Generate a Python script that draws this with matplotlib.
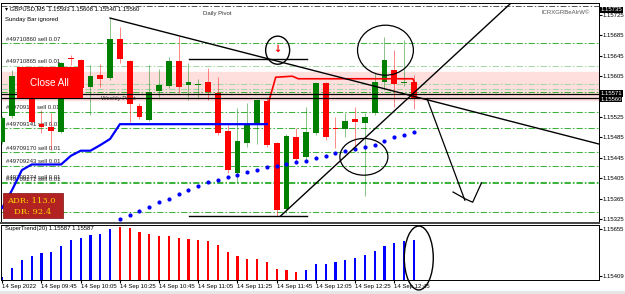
import matplotlib
matplotlib.use("Agg")
import matplotlib.pyplot as plt
from matplotlib.patches import Ellipse, Rectangle
import matplotlib.transforms as mtransforms

plt.rcParams["font.family"] = ["Liberation Sans", "DejaVu Sans"]

# GBPUSD M5 candles, 14 Sep 2022 from 09:25
opens = [1.15476, 1.15527, 1.15600, 1.15594, 1.15511, 1.15506, 1.15496, 1.15641, 1.15637, 1.15584,
         1.15607, 1.15602, 1.15678, 1.15635, 1.15547, 1.15519, 1.15576, 1.15586, 1.15635, 1.15588,
         1.15588, 1.15594, 1.15572, 1.15498, 1.15415, 1.15474, 1.15511, 1.15556, 1.15474, 1.15345,
         1.15486, 1.15447, 1.15494, 1.15592, 1.15504, 1.15502, 1.15521, 1.15513, 1.15533, 1.15594,
         1.15617, 1.15592, 1.15593]
highs = [1.15527, 1.15617, 1.15612, 1.15600, 1.15539, 1.15533, 1.15633, 1.15647, 1.15639, 1.15627,
         1.15629, 1.15719, 1.15701, 1.15637, 1.15553, 1.15627, 1.15619, 1.15643, 1.15684, 1.15631,
         1.15600, 1.15621, 1.15603, 1.15509, 1.15543, 1.15553, 1.15560, 1.15564, 1.15476, 1.15492,
         1.15504, 1.15545, 1.15594, 1.15594, 1.15525, 1.15533, 1.15545, 1.15533, 1.15611, 1.15682,
         1.15656, 1.15676, 1.15608]
lows = [1.15472, 1.15523, 1.15590, 1.15513, 1.15494, 1.15460, 1.15494, 1.15627, 1.15578, 1.15529,
        1.15584, 1.15598, 1.15631, 1.15515, 1.15521, 1.15517, 1.15560, 1.15582, 1.15572, 1.15558,
        1.15560, 1.15558, 1.15490, 1.15415, 1.15396, 1.15466, 1.15472, 1.15466, 1.15331, 1.15337,
        1.15437, 1.15441, 1.15490, 1.15480, 1.15464, 1.15486, 1.15466, 1.15370, 1.15529, 1.15578,
        1.15545, 1.15586, 1.15540]
closes = [1.15523, 1.15605, 1.15596, 1.15515, 1.15506, 1.15498, 1.15631, 1.15639, 1.15582, 1.15605,
          1.15600, 1.15678, 1.15639, 1.15551, 1.15525, 1.15574, 1.15588, 1.15635, 1.15584, 1.15594,
          1.15590, 1.15574, 1.15494, 1.15421, 1.15478, 1.15509, 1.15558, 1.15470, 1.15343, 1.15488,
          1.15443, 1.15496, 1.15592, 1.15486, 1.15502, 1.15517, 1.15515, 1.15525, 1.15594, 1.15637,
          1.15590, 1.15594, 1.15560]

# blue trailing line (bars 0..27) and blue dots (bars 12..42)
blue_line = [1.15347, 1.15382, 1.15421, 1.15432, 1.15432, 1.15432, 1.15432, 1.15449, 1.15459, 1.15459,
             1.15470, 1.15482] + [1.15511] * 16
dots = [1.15325, 1.15333, 1.15340, 1.15349, 1.15358, 1.15364, 1.15374, 1.15382, 1.15389, 1.15397,
        1.15402, 1.15408, 1.15411, 1.15417, 1.15421, 1.15427, 1.15430, 1.15432, 1.15436, 1.15438,
        1.15445, 1.15449, 1.15454, 1.15458, 1.15462, 1.15466, 1.15471, 1.15478, 1.15485, 1.15490,
        1.15495]
dots_start = 12

# red step line
red_x = [26.9, 27.9, 29.6, 30.2, 41.9, 42.2]
red_y = [1.15535, 1.15603, 1.15605, 1.15600, 1.15600, 1.15586]

# SuperTrend(20) histogram
st_vals = [1.15404, 1.15448, 1.15492, 1.15513, 1.15527, 1.15532, 1.15565, 1.15595, 1.15606, 1.15622,
           1.15630, 1.15653, 1.15667, 1.15659, 1.15639, 1.15627, 1.15618, 1.15618, 1.15608, 1.15601,
           1.15597, 1.15592, 1.15571, 1.15532, 1.15511, 1.15495, 1.15495, 1.15481, 1.15443, 1.15439,
           1.15430, 1.15439, 1.15471, 1.15473, 1.15481, 1.15492, 1.15504, 1.15518, 1.15539, 1.15567,
           1.15581, 1.15593, 1.15597]
st_red = list(range(12, 31))

# order / pivot lines
order_lines = [1.15670, 1.15626, 1.15589, 1.15579, 1.15575, 1.15563, 1.15535, 1.15503, 1.15456,
               1.15429, 1.15398, 1.15395, 1.15339]
order_dark = [True, False, False, False, True, False, True, True, True, True, True, True, True]
order_labels = {1.15670: "#49710860 sell 0.07", 1.15626: "#49710865 sell 0.01",
                1.15535: "#49709111 sell 0.01", 1.15503: "#49709141 sell 0.01",
                1.15456: "#49709170 sell 0.01", 1.15429: "#49709243 sell 0.01",
                1.15398: "#49709274 sell 0.01", 1.15395: "#49709271 sell 0.01",
                1.15339: "#49709277 sell 0.01"}
band = (1.15558, 1.15613)
black_lines = [1.15571, 1.15563]
top_line = 1.15743

# hand drawn lines (bar index, price)
down_trend = ([11.0, 60.9], [1.15719, 1.15472])
up_trend = ([28.4, 52.0], [1.15331, 1.15750])
hline_top = ([19.1, 31.1], [1.15638, 1.15638])
hline_bot = ([19.1, 31.1], [1.15331, 1.15331])
arrow_x = [43.4, 47.2]
arrow_y = [1.15558, 1.15362]
head_x = [46.0, 47.3, 48.0, 48.9]
head_y = [1.15378, 1.15364, 1.15358, 1.15396]

price_ticks = [1.15725, 1.15685, 1.15645, 1.15605, 1.15525, 1.15485, 1.15445, 1.15405, 1.15365, 1.15325]
time_ticks = [0, 4, 8, 12, 16, 20, 24, 28, 32, 36, 40]
time_labels = ["14 Sep 2022", "14 Sep 09:45", "14 Sep 10:05", "14 Sep 10:25", "14 Sep 10:45",
               "14 Sep 11:05", "14 Sep 11:25", "14 Sep 11:45", "14 Sep 12:05", "14 Sep 12:25",
               "14 Sep 12:45"]

GREEN = "#008000"
RED = "#ff0000"
FS = 4.3

fig = plt.figure(figsize=(6.25, 2.94), dpi=100)
fig.patches.append(Rectangle((0, 0), 1, 3 / 294, transform=fig.transFigure,
                             facecolor="#e6e6e6", edgecolor="none"))
ax = fig.add_axes([1 / 625, 1 - 223 / 294, 598 / 625, 220 / 294])
ax2 = fig.add_axes([1 / 625, 1 - 280 / 294, 598 / 625, 55 / 294])

xlim = (-0.13, 60.89)
ax.set_xlim(*xlim)
ax.set_ylim(1.153173, 1.157485)

# background band and lines
ax.axhspan(band[0], band[1], color="#ffdede", zorder=0)
for p, dark in zip(order_lines, order_dark):
    ax.axhline(p, color="#3cb43c" if dark else "#a6d6a6", lw=0.75, ls=(0, (6, 2, 1.5, 2)), zorder=1)
for p, lab in order_labels.items():
    ax.text(0.4, p + 0.00003, lab, fontsize=FS, color="#222222", va="bottom", zorder=1)
ax.axhline(top_line, color="#555555", lw=0.7, ls=(0, (6, 2, 1.5, 2)), zorder=1)
for p in black_lines:
    ax.axhline(p, color="black", lw=0.9, zorder=4)
ax.text(10.1, 1.15561, "Weekly Pivot", fontsize=FS, color="#333333", va="center", zorder=1)

# candles
for i in range(len(opens)):
    o, h, l, c = opens[i], highs[i], lows[i], closes[i]
    col = GREEN if c >= o else RED
    ax.vlines(i, l, h, color=col, lw=0.6, alpha=0.55, zorder=2)
    ax.bar(i, max(abs(c - o), 0.000012), bottom=min(o, c), width=0.6, color=col, zorder=3)

# indicators
ax.plot(range(len(blue_line)), blue_line, color="#0000ff", lw=1.6, zorder=3)
ax.plot(range(dots_start, dots_start + len(dots)), dots, ls="none", marker="o", ms=2.0,
        color="#0000ff", zorder=3)
ax.plot(red_x, red_y, color=RED, lw=1.2, zorder=3)

# hand drawn annotations
for xs, ys in [down_trend, up_trend, hline_top, hline_bot]:
    ax.plot(xs, ys, color="black", lw=1.0, zorder=5)
ax.plot(arrow_x, arrow_y, color="black", lw=0.9, zorder=5)
ax.plot(head_x, head_y, color="black", lw=0.9, zorder=5)
ax.add_patch(Ellipse((28.1, 1.15656), 2.45, 0.00055, fill=False, color="black", lw=1.0, zorder=5))
ax.text(28.1, 1.15658, "\u2193", color=RED, fontsize=7, fontweight="bold", ha="center", va="center",
        family="DejaVu Sans", zorder=5)
ax.add_patch(Ellipse((39.1, 1.15656), 5.7, 0.00098, fill=False, color="black", lw=0.9, zorder=5))
ax.add_patch(Ellipse((36.9, 1.15447), 4.9, 0.00072, fill=False, color="black", lw=0.9, zorder=5))

# header texts
ax.text(0.006, 0.972, "\u25be GBPUSD,M5  1.15593 1.15608 1.15540 1.15560", transform=ax.transAxes,
        fontsize=FS, va="center")
ax.text(0.006, 0.927, "Sunday Bar ignored", transform=ax.transAxes, fontsize=FS, va="center")
ax.text(0.338, 0.95, "Daily Pivot", transform=ax.transAxes, fontsize=FS, va="center", color="#333333")
ax.text(0.985, 0.955, "ICRXGRBeAIrW\u00a9", transform=ax.transAxes, fontsize=FS, va="center",
        ha="right", color="#555555")

# buttons
ax.add_patch(Rectangle((0.0268, 0.568), 0.110, 0.141, transform=ax.transAxes,
                       facecolor=RED, edgecolor="none", zorder=6))
ax.text(0.0268 + 0.055, 0.568 + 0.0705, "Close All", transform=ax.transAxes, color="white",
        fontsize=7.2, ha="center", va="center", zorder=7)
ax.add_patch(Rectangle((0.0033, 0.023), 0.100, 0.114, transform=ax.transAxes,
                       facecolor="#b22222", edgecolor="#801010", lw=0.5, zorder=6))
ax.text(0.010, 0.102, "ADR: 113.0", transform=ax.transAxes, color="#ffd700", fontsize=6,
        family="DejaVu Serif", va="center", zorder=7)
ax.text(0.022, 0.052, "DR: 92.4", transform=ax.transAxes, color="#ffd700", fontsize=6,
        family="DejaVu Serif", va="center", zorder=7)

# price axis on the right
ax.yaxis.tick_right()
ax.set_yticks(price_ticks)
ax.set_yticklabels([f"{p:.5f}" for p in price_ticks])
ax.tick_params(axis="y", labelsize=FS, length=2, pad=0.8)
ax.set_xticks([])
trans = mtransforms.blended_transform_factory(ax.transAxes, ax.transData)
for p in [1.15735, 1.15571, 1.15560]:
    ax.text(1.002, p, f"{p:.5f}", transform=trans, fontsize=FS, color="white", va="center",
            bbox=dict(facecolor="black", edgecolor="none", pad=0.5), clip_on=False, zorder=8)
for s in ax.spines.values():
    s.set_linewidth(0.7)
ax.spines["bottom"].set_linewidth(1.4)
ax.spines["bottom"].set_color("#444444")

# lower panel
ax2.set_xlim(*xlim)
ax2.set_ylim(1.15386, 1.15676)
for i, v in enumerate(st_vals):
    ax2.bar(i, v - 1.15386, bottom=1.15386, width=0.22, color=RED if i in st_red else "#0000ff")
ax2.add_patch(Ellipse((42.5, 1.15502), 2.96, 0.00337, fill=False, color="black", lw=1.0,
                      clip_on=False, zorder=5))
ax2.text(0.006, 0.93, "SuperTrend(20) 1.15587 1.15587", transform=ax2.transAxes, fontsize=FS, va="center")
ax2.yaxis.tick_right()
ax2.set_yticks([1.15655, 1.15409])
ax2.set_yticklabels(["1.15655", "1.15409"])
ax2.tick_params(axis="y", labelsize=FS, length=2, pad=0.8)
ax2.set_xticks(time_ticks)
ax2.set_xticklabels(time_labels, ha="left")
ax2.tick_params(axis="x", labelsize=FS, length=2, pad=1)
for s in ax2.spines.values():
    s.set_linewidth(0.7)

fig.savefig("out.png", dpi=100)
